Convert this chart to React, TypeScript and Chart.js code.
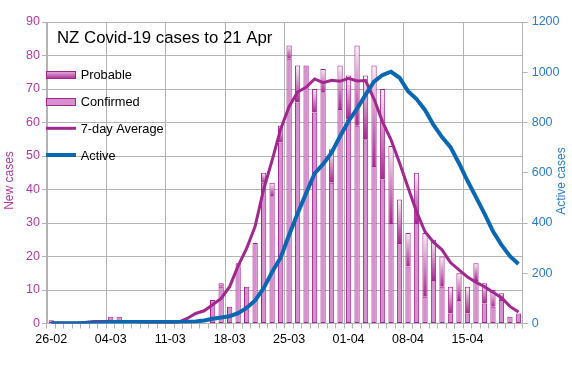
import React, { useEffect, useRef } from 'react';
import { Chart, registerables } from 'chart.js';

Chart.register(...registerables);

const chartTitle = 'NZ Covid-19 cases to 21 Apr';

const dates = [
  '26-02', '27-02', '28-02', '29-02',
  '01-03', '02-03', '03-03', '04-03', '05-03', '06-03', '07-03', '08-03', '09-03', '10-03',
  '11-03', '12-03', '13-03', '14-03', '15-03', '16-03', '17-03', '18-03', '19-03', '20-03',
  '21-03', '22-03', '23-03', '24-03', '25-03', '26-03', '27-03', '28-03', '29-03', '30-03', '31-03',
  '01-04', '02-04', '03-04', '04-04', '05-04', '06-04', '07-04', '08-04', '09-04', '10-04',
  '11-04', '12-04', '13-04', '14-04', '15-04', '16-04', '17-04', '18-04', '19-04', '20-04', '21-04',
];

const confirmedCases = [
  1, 0, 0, 0, 0, 0, 0, 2, 2, 0, 0, 0, 0, 0,
  0, 0, 0, 0, 0, 7, 11, 5, 17, 11, 24, 42, 38, 54,
  79, 66, 77, 63, 69, 42, 64, 61, 59, 55, 47, 43, 30, 24,
  17, 30, 8, 13, 11, 3, 7, 3, 13, 6, 5, 7, 2, 3,
];

const probableCases = [
  0, 0, 0, 0, 0, 0, 0, 0, 0, 0, 0, 0, 0, 0,
  0, 0, 0, 0, 0, 0, 1, 0, 1, 0, 0, 3, 4, 5,
  4, 11, 0, 7, 7, 10, 13, 13, 24, 19, 30, 27, 23, 13,
  10, 15, 19, 12, 9, 8, 8, 8, 5, 6, 5, 2, 0, 0,
];

const sevenDayAverage = [
  0.1, 0.1, 0.1, 0.1, 0.3, 0.6, 0.6, 0.6, 0.6, 0.6, 0.6, 0.3, 0.1, 0.1,
  0.1, 0.4, 1.5, 3.0, 3.8, 5.6, 7.5, 11.0, 17.2, 22.4, 29.0, 40.0, 48.7, 58.0,
  64.7, 69.1, 70.5, 73.0, 71.9, 72.6, 72.3, 73.2, 72.4, 72.5, 67.0, 60.2, 54.8, 48.0,
  40.6, 33.4, 27.4, 24.3, 22.0, 18.2, 16.0, 13.9, 12.3, 11.0, 9.3, 7.7, 5.1, 3.4,
];

const activeCases = [
  1, 1, 1, 1, 2, 3, 4, 5, 6, 6, 6, 6, 6, 6,
  6, 6, 7, 8, 12, 19, 24, 29, 41, 62, 92, 140, 205, 262,
  352, 438, 518, 597, 634, 680, 745, 805, 855, 910, 963, 989, 1002, 978,
  925, 893, 850, 790, 742, 702, 638, 568, 503, 437, 367, 313, 268, 237,
];

const legendLabels = ['Probable', 'Confirmed', '7-day Average', 'Active'];
const leftAxisTitle = 'New cases';
const rightAxisTitle = 'Active cases';

const FONT = '"Liberation Sans", Arial, Helvetica, sans-serif';
const GRID = '#b3b3b3';
const BAR_BORDER = '#a3238f';
const CONF_FILL = '#d690cd';
const PROB_DARK = '#a82790';
const PROB_LIGHT = '#fbf0f9';
const AVG_COLOR = '#a1288f';
const ACTIVE_COLOR = '#0a68b2';
const LEFT_TEXT = '#b43aa1';
const RIGHT_TEXT = '#2a7ccf';

const probableFill = (ctx: any) => {
  const chart = ctx.chart;
  const ys = chart.scales && chart.scales.y;
  const i = ctx.dataIndex;
  if (ctx.type !== 'data' || !ys) return PROB_DARK;
  const top = ys.getPixelForValue(confirmedCases[i] + probableCases[i]);
  const bot = ys.getPixelForValue(confirmedCases[i]);
  if (!isFinite(top) || !isFinite(bot) || bot - top < 1) return PROB_DARK;
  const g = chart.ctx.createLinearGradient(0, top, 0, bot);
  g.addColorStop(0, PROB_LIGHT);
  g.addColorStop(1, PROB_DARK);
  return g;
};

const overlayPlugin = {
  id: 'overlay',
  afterDraw(chart: any) {
    const c = chart.ctx as CanvasRenderingContext2D;
    const { left, top } = chart.chartArea;
    c.save();
    // title
    c.fillStyle = '#000';
    c.textAlign = 'left';
    c.textBaseline = 'alphabetic';
    c.font = `16.8px ${FONT}`;
    c.fillText(chartTitle, left + 10, top + 21.3);

    // legend
    const sx = left - 1;
    const sw = 30;
    const tx = left + 33.7;
    c.font = `12.8px ${FONT}`;
    // Probable swatch
    const p0 = top + 49;
    const pg = c.createLinearGradient(0, p0, 0, p0 + 8);
    pg.addColorStop(0, '#e9b8e2');
    pg.addColorStop(1, PROB_DARK);
    c.fillStyle = pg;
    c.fillRect(sx, p0, sw, 8);
    c.strokeStyle = BAR_BORDER;
    c.lineWidth = 1;
    c.strokeRect(sx + 0.5, p0 + 0.5, sw - 1, 7);
    // Confirmed swatch
    const c0 = top + 76;
    c.fillStyle = CONF_FILL;
    c.fillRect(sx, c0, sw, 8);
    c.strokeRect(sx + 0.5, c0 + 0.5, sw - 1, 7);
    // 7-day line
    c.strokeStyle = AVG_COLOR;
    c.lineWidth = 3;
    c.beginPath();
    c.moveTo(sx, top + 106.3);
    c.lineTo(sx + sw, top + 106.3);
    c.stroke();
    // Active line
    c.strokeStyle = ACTIVE_COLOR;
    c.lineWidth = 4;
    c.beginPath();
    c.moveTo(sx, top + 133);
    c.lineTo(sx + sw, top + 133);
    c.stroke();

    c.fillStyle = '#000';
    const baselines = [57.3, 84, 110.8, 137.6];
    legendLabels.forEach((t, k) => c.fillText(t, tx, top + baselines[k]));

    // axis titles (both read upward)
    c.font = `12px ${FONT}`;
    c.textAlign = 'center';
    c.fillStyle = LEFT_TEXT;
    c.save();
    c.translate(13.3, 180.5);
    c.rotate(-Math.PI / 2);
    c.fillText(leftAxisTitle, 0, 0);
    c.restore();
    c.fillStyle = RIGHT_TEXT;
    c.save();
    c.translate(565, 181);
    c.rotate(-Math.PI / 2);
    c.fillText(rightAxisTitle, 0, 0);
    c.restore();
    c.restore();
  },
};

export default function App() {
  const ref = useRef<HTMLCanvasElement>(null);

  useEffect(() => {
    const canvas = ref.current;
    if (!canvas) return;
    Chart.defaults.font.family = FONT;
    const barWidth = (ctx: any) => (ctx.raw > 0 ? 1 : 0);
    const chart = new Chart(canvas, {
      type: 'bar',
      data: {
        labels: dates,
        datasets: [
          {
            type: 'bar',
            label: legendLabels[1],
            data: confirmedCases,
            yAxisID: 'y',
            stack: 'cases',
            order: 2,
            backgroundColor: CONF_FILL,
            borderColor: BAR_BORDER,
            borderWidth: barWidth,
            borderSkipped: false,
            barPercentage: 0.62,
            categoryPercentage: 1,
          },
          {
            type: 'bar',
            label: legendLabels[0],
            data: probableCases,
            yAxisID: 'y',
            stack: 'cases',
            order: 3,
            backgroundColor: probableFill,
            borderColor: BAR_BORDER,
            borderWidth: barWidth,
            borderSkipped: 'bottom',
            barPercentage: 0.62,
            categoryPercentage: 1,
          },
          {
            type: 'line',
            label: legendLabels[2],
            data: sevenDayAverage,
            yAxisID: 'y',
            stack: 'avg',
            order: 1,
            borderColor: AVG_COLOR,
            borderWidth: 3,
            pointRadius: 0,
            tension: 0,
            fill: false,
          },
          {
            type: 'line',
            label: legendLabels[3],
            data: activeCases,
            yAxisID: 'y2',
            order: 0,
            borderColor: ACTIVE_COLOR,
            borderWidth: 4,
            pointRadius: 0,
            tension: 0,
            fill: false,
          },
        ] as any,
      },
      options: {
        responsive: false,
        animation: false,
        layout: { padding: { top: 22, left: 0, right: 0, bottom: 0 } },
        plugins: {
          legend: { display: false },
          title: { display: false },
          tooltip: { enabled: false },
        },
        scales: {
          x: {
            type: 'category',
            stacked: true,
            offset: true,
            grid: {
              offset: true,
              color: (ctx: any) => (typeof ctx.index === 'number' && ctx.index % 7 === 0 ? GRID : 'rgba(0,0,0,0)'),
              tickColor: GRID,
              tickLength: 5,
              lineWidth: 1,
            },
            border: { color: GRID },
            ticks: {
              autoSkip: false,
              maxRotation: 0,
              minRotation: 0,
              padding: 4,
              color: '#000',
              font: { size: 12.5, family: FONT },
              callback: (_v: any, i: number) => (i % 7 === 0 ? dates[i] : ''),
            },
            afterFit: (s: any) => {
              s.height = 68.5;
            },
          },
          y: {
            position: 'left',
            stacked: true,
            min: 0,
            max: 90,
            grid: { color: GRID, tickColor: GRID, tickLength: 5 },
            border: { color: GRID },
            ticks: {
              stepSize: 10,
              padding: 2,
              color: LEFT_TEXT,
              font: { size: 12.5, family: FONT },
              callback: (v: any) => String(v),
            },
            afterFit: (s: any) => {
              s.width = 47;
            },
          },
          y2: {
            position: 'right',
            min: 0,
            max: 1200,
            grid: { drawOnChartArea: false, color: GRID, tickColor: GRID, tickLength: 5 },
            border: { color: GRID },
            ticks: {
              stepSize: 200,
              padding: 4,
              color: RIGHT_TEXT,
              font: { size: 12.5, family: FONT },
              callback: (v: any) => String(v),
            },
            afterFit: (s: any) => {
              s.width = 49.3;
            },
          },
        },
      } as any,
      plugins: [overlayPlugin],
    });
    return () => chart.destroy();
  }, []);

  return (
    <div style={{ position: 'fixed', left: 0, top: 0, width: 572, height: 392, background: '#fff' }}>
      <canvas ref={ref} width={572} height={392} style={{ display: 'block', width: 572, height: 392 }} />
    </div>
  );
}
